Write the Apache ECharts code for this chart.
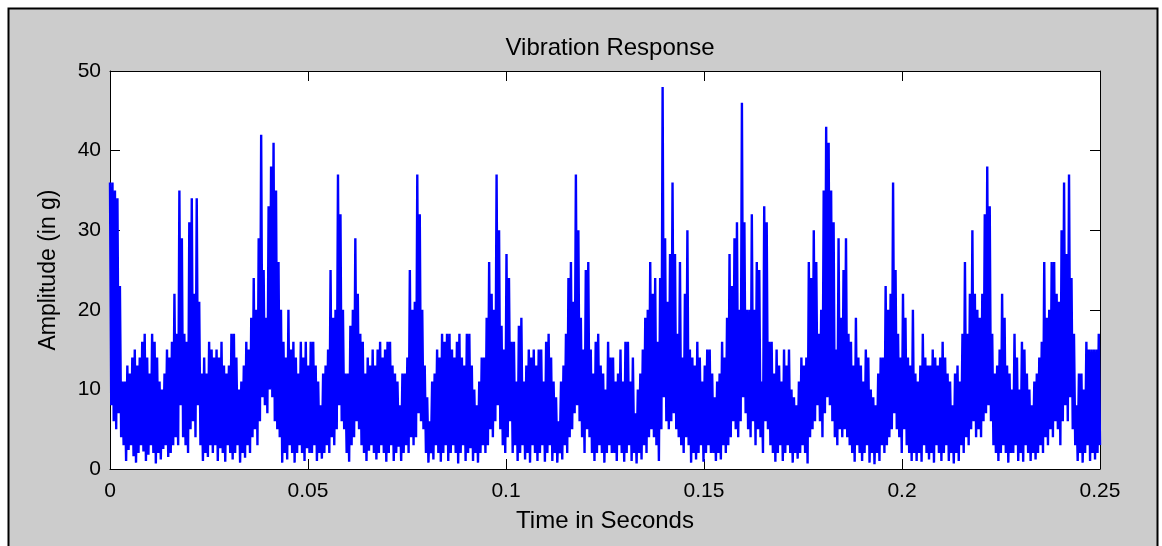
<!DOCTYPE html>
<html>
<head>
<meta charset="utf-8">
<script src="https://cdn.jsdelivr.net/npm/echarts@6/dist/echarts.min.js"></script>
<style>
html,body{margin:0;padding:0;background:#ffffff;}
#chart{width:1162px;height:546px;}
</style>
</head>
<body>
<div id="chart"></div>
<script>
// ---- data (alternating local maxima / minima of the signal) ----
const chartTitle = 'Vibration Response';
const xAxisName = 'Time in Seconds';
const yAxisName = 'Amplitude (in g)';
const timeStart = 0;
const timeEnd = 0.25;
const xTicks = [0, 0.05, 0.1, 0.15, 0.2, 0.25];
const yTicks = [0, 10, 20, 30, 40, 50];

// local peaks (g), in time order
const peakValues = [
  36,36,35,34,23,11,11,13,12,14,15,13,14,16,17,14,12,17,16,14,11,10,12,15,14,16,22,17,35,29,17,16,31,34,22,34,21,12,14,12,16,
  15,14,15,14,16,13,12,13,17,17,14,10,11,13,16,15,19,24,20,29,42,25,19,33,38,41,35,26,20,16,14,20,15,16,14,12,16,14,16,13,
  16,16,13,11,8,12,13,15,25,19,20,37,32,20,12,12,18,20,29,22,17,16,12,14,13,15,13,15,16,14,15,16,16,13,12,11,8,12,12,14,25,
  20,21,37,32,20,13,9,6,11,12,15,14,17,16,17,17,15,14,16,17,14,13,17,17,13,10,8,11,14,14,19,26,22,20,37,30,18,15,27,24,
  16,16,11,18,19,11,13,15,14,15,13,15,15,11,16,17,14,11,9,6,11,13,17,24,26,21,37,30,19,15,25,26,15,12,16,17,13,12,10,16,14,
  14,11,12,15,11,16,16,11,14,7,10,12,15,19,20,26,22,24,16,24,48,29,21,27,36,27,17,26,14,22,30,15,14,13,16,14,11,13,15,15,
  12,9,11,12,16,14,19,27,23,29,31,20,46,31,20,20,32,20,26,25,11,33,31,16,16,12,15,13,11,15,13,15,10,9,8,11,14,13,14,26,
  24,30,26,17,20,35,43,41,35,31,15,29,19,25,29,17,16,13,19,14,13,11,15,14,10,9,8,12,14,14,23,20,22,36,25,17,14,22,19,14,13,
  20,12,11,13,17,14,13,13,15,14,13,14,16,14,12,11,8,12,13,11,17,26,17,22,30,22,20,19,22,32,38,33,17,12,13,15,22,19,13,12,
  10,17,14,10,16,15,12,10,8,11,12,14,16,26,19,20,26,26,22,21,30,36,27,37,24,17,8,12,12,10,16,15,15,15,15,17
];

// local troughs (g), in time order
const troughValues = [
  8,6,5,7,4,3,1,2.4,3,1.6,0.8,2,3,2.2,1,1.8,3,2,0.7,2,1.2,2.5,3,1.5,2,3,4,3,8,4,3,2,5,6,4,8,3,1,2,1.5,3,
  2,3,1,2.6,2,0.9,3,2,1.2,2,3,0.8,2,1.4,3,2,4,5,3,6,9,8,7,10,9,6,5,4,0.8,2,1.2,3,2,0.8,2,3,2,1,2.6,2,
  2,3,1,2,1.3,2,3,2,4,3,5,8,6,5,2,0.9,3,4,6,5,3,2,1,2.3,3,2,1.2,2,3,2,0.9,2,3,1,2,2.8,1,2,3,2,4,
  3,4,7,6,5,2,0.8,2,1.2,3,2,0.9,2,3,1,2,3,2,0.7,2,3,1,2,2.6,1,2,0.8,2,3,2,3,5,4,6,8,5,3,2,4,6,
  2,3,1,2,3,1.2,2,0.8,3,2,1,2,3,0.9,2,3,1,2,0.8,2,1.2,3,2,4,5,7,8,6,4,2,5,4,2,1,2,3,2,0.8,2,3,2,
  2,1,3,2,0.9,2,3,1,2,0.7,2,1.2,3,2,4,5,4,3,1,5,9,6,5,6,7,5,4,3,2,4,3,0.8,2,1.2,2,3,0.9,2,3,2,
  2,1,2,1.2,3,2,3,4,6,5,4,6,9,7,5,4,6,3,5,4,2,6,5,3,2,0.9,2,3,1,2,3,2,0.8,2,1.3,2,3,2,0.7,4,
  5,6,8,6,4,7,9,8,6,4,3,5,4,5,4,3,2,0.9,3,2,1,2,3,0.8,2,0.6,2,1,3,2,3,4,5,7,5,4,2,5,3,2,1,
  2,1,2,0.9,3,2,1.2,2,0.8,3,2,1,2,3,1,2,0.7,2,1,3,2,4,3,5,6,4,5,4,6,7,8,6,3,2,1,2,3,2,0.8,2,
  2,3,1,2,0.9,3,2,1,2,1.2,2,3,2,4,3,5,4,6,5,3,6,8,6,9,5,3,1,2,0.8,2,3,1,2,1.2,2,3
];

// ---- build the signal: peak, trough, peak, trough ... evenly spaced in time ----
const nPoints = peakValues.length + troughValues.length;
const dt = (timeEnd - timeStart) / (nPoints - 1);
const signal = [];
for (let i = 0; i < peakValues.length; i++) {
  signal.push([timeStart + (2 * i) * dt, peakValues[i]]);
  signal.push([timeStart + (2 * i + 1) * dt, troughValues[i]]);
}

const FONT = "'Liberation Sans', Arial, Helvetica, sans-serif";
const chart = echarts.init(document.getElementById('chart'), null, {renderer: 'canvas'});

const axisCommon = {
  axisLine: {show: true, onZero: false, lineStyle: {color: '#000', width: 1}},
  axisTick: {show: true, inside: true, length: 10, lineStyle: {color: '#000', width: 1}},
  splitLine: {show: false}
};

chart.setOption({
  animation: false,
  backgroundColor: 'transparent',
  graphic: [{
    type: 'rect', z: -10, silent: true,
    shape: {x: 8.5, y: 8.5, width: 1149, height: 560},
    style: {fill: '#cccccc', stroke: '#000', lineWidth: 2}
  }, {
    type: 'rect', z: -5, silent: true,
    shape: {x: 110, y: 71, width: 990, height: 398},
    style: {fill: '#ffffff'}
  }],
  title: {
    text: chartTitle,
    left: 605, top: 31, textAlign: 'center',
    textStyle: {fontFamily: FONT, fontSize: 24, fontWeight: 'normal', color: '#000'}
  },
  grid: {left: 110, top: 71, right: 62, bottom: 77, containLabel: false},
  xAxis: [
    Object.assign({
      type: 'value', min: xTicks[0], max: xTicks[xTicks.length - 1], interval: xTicks[1] - xTicks[0],
      position: 'bottom',
      axisLabel: {color: '#000', fontFamily: FONT, fontSize: 21, margin: 12},
      name: xAxisName, nameLocation: 'middle', nameGap: 40,
      nameTextStyle: {color: '#000', fontFamily: FONT, fontSize: 24}
    }, axisCommon),
    Object.assign({
      type: 'value', min: xTicks[0], max: xTicks[xTicks.length - 1], interval: xTicks[1] - xTicks[0],
      position: 'top', axisLabel: {show: false}
    }, axisCommon)
  ],
  yAxis: [
    Object.assign({
      type: 'value', min: yTicks[0], max: yTicks[yTicks.length - 1], interval: yTicks[1] - yTicks[0],
      position: 'left',
      axisLabel: {color: '#000', fontFamily: FONT, fontSize: 21, margin: 9},
      name: yAxisName, nameLocation: 'middle', nameGap: 50,
      nameTextStyle: {color: '#000', fontFamily: FONT, fontSize: 23}
    }, axisCommon),
    Object.assign({
      type: 'value', min: yTicks[0], max: yTicks[yTicks.length - 1], interval: yTicks[1] - yTicks[0],
      position: 'right', axisLabel: {show: false}
    }, axisCommon)
  ],
  series: [{
    type: 'line',
    data: signal,
    xAxisIndex: 0, yAxisIndex: 0,
    symbol: 'none', showSymbol: false,
    lineStyle: {color: '#0000ff', width: 2.4},
    clip: true
  }]
});
</script>
</body>
</html>
